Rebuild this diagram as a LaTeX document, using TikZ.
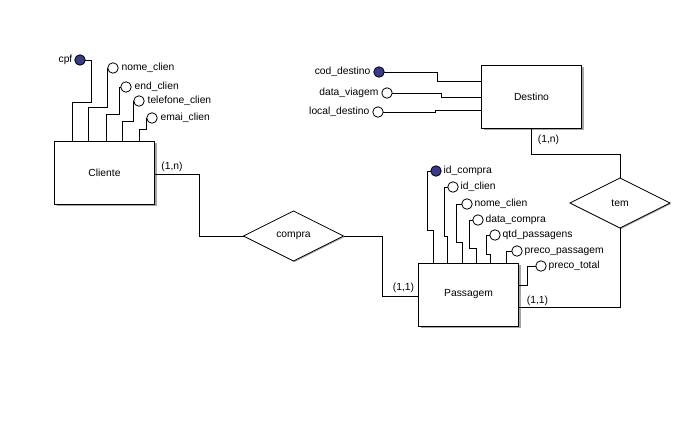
\documentclass[tikz,border=0pt]{standalone}
\usepackage{fontspec}
\setmainfont{Liberation Sans}
\usetikzlibrary{shapes.geometric,shadows}
\definecolor{keyblue}{RGB}{58,58,140}
\begin{document}
\begin{tikzpicture}[x=1pt,y=-1pt, font=\fontsize{10.3}{12}\selectfont, line width=0.8pt,
 entity/.style={draw, fill=white, minimum width=100pt, minimum height=63pt, inner sep=0pt, outer sep=0pt,
   general shadow={fill=black!35, shadow xshift=2pt, shadow yshift=-2pt}},
 rel/.style={diamond, draw, fill=white, inner sep=0pt, outer sep=0pt, minimum width=100pt, minimum height=50pt,
   general shadow={fill=black!35, shadow xshift=1pt, shadow yshift=-1pt}},
 attr/.style={circle, draw, fill=white, minimum size=10.5pt, inner sep=0pt, outer sep=0pt},
 keyattr/.style={attr, fill=keyblue},
 lbl/.style={inner sep=0pt, text height=7pt, text depth=2pt},
]
\useasboundingbox (0,0) rectangle (684,424);

% entities
\node[entity] (cliente) at (104.5,172.5) {Cliente};
\node[entity] (destino) at (531.5,96.5) {Destino};
\node[entity] (passagem) at (468.5,294.5) {Passagem};

% relationships
\node[rel] (compra) at (293.5,236) {compra};
\node[rel] (tem) at (620,203) {tem};

% Cliente attributes
\node[keyattr] (c1) at (80,60) {};
\node[attr] (c2) at (113,68) {};
\node[attr] (c3) at (126,87) {};
\node[attr] (c4) at (139,101) {};
\node[attr] (c5) at (152,118) {};
\node[lbl, anchor=east] (c1l) at ([xshift=-2pt]c1.west) {cpf};
\node[lbl, anchor=west] (c2l) at ([xshift=3pt]c2.east) {nome\_clien};
\node[lbl, anchor=west] (c3l) at ([xshift=3pt]c3.east) {end\_clien};
\node[lbl, anchor=west] (c4l) at ([xshift=3pt]c4.east) {telefone\_clien};
\node[lbl, anchor=west] (c5l) at ([xshift=3pt]c5.east) {emai\_clien};
\draw (c1.east) -| (91,102) -| ([xshift=17.5pt]cliente.north west);
\draw (c2.west) -| (107,107) -| ([xshift=33.5pt]cliente.north west);
\draw (c3.west) -| (119,114) -| ([xshift=51.5pt]cliente.north west);
\draw (c4.west) -| (133,121) -| ([xshift=67.5pt]cliente.north west);
\draw (c5.west) -| (146,129) -| ([xshift=84.5pt]cliente.north west);

% Destino attributes
\node[keyattr] (d1) at (379,72) {};
\node[attr] (d2) at (387,93) {};
\node[attr] (d3) at (378,112) {};
\node[lbl, anchor=east] (d1l) at ([xshift=-3pt]d1.west) {cod\_destino};
\node[lbl, anchor=east] (d2l) at ([xshift=-3pt]d2.west) {data\_viagem};
\node[lbl, anchor=east] (d3l) at ([xshift=-3pt]d3.west) {local\_destino};
\draw (d1.east) -| (437,81) -- ([yshift=-16pt]destino.north west);
\draw (d2.east) -| (441,97) -- ([yshift=-32pt]destino.north west);
\draw (d3.east) -| (435,110) -- ([yshift=-45pt]destino.north west);

% Passagem attributes
\node[keyattr] (p1) at (436,171) {};
\node[attr] (p2) at (453,187) {};
\node[attr] (p3) at (467,204) {};
\node[attr] (p4) at (478,220) {};
\node[attr] (p5) at (495,235) {};
\node[attr] (p6) at (517,251) {};
\node[attr] (p7) at (541,266) {};
\node[lbl, anchor=west] (p1l) at ([xshift=2pt]p1.east) {id\_compra};
\node[lbl, anchor=west] (p2l) at ([xshift=2pt]p2.east) {id\_clien};
\node[lbl, anchor=west] (p3l) at ([xshift=2pt]p3.east) {nome\_clien};
\node[lbl, anchor=west] (p4l) at ([xshift=2pt]p4.east) {data\_compra};
\node[lbl, anchor=west] (p5l) at ([xshift=2pt]p5.east) {qtd\_passagens};
\node[lbl, anchor=west] (p6l) at ([xshift=2pt]p6.east) {preco\_passagem};
\node[lbl, anchor=west] (p7l) at ([xshift=2pt]p7.east) {preco\_total};
\draw (p1.west) -| (427,230) -| ([xshift=14.5pt]passagem.north west);
\draw (p2.west) -| (444,236) -| ([xshift=28.5pt]passagem.north west);
\draw (p3.west) -| (456,242) -| ([xshift=43.5pt]passagem.north west);
\draw (p4.west) -| (469,248) -| ([xshift=57.5pt]passagem.north west);
\draw (p5.west) -| (486,254) -| ([xshift=71.5pt]passagem.north west);
\draw (p6.west) -| ([xshift=87.5pt]passagem.north west);
\draw (p7.west) -| (527,285) -- ([yshift=9.5pt]passagem.east);

% relationship connectors
\draw ([yshift=-1.5pt]cliente.east) -| (199,236) -- (compra.west);
\draw (compra.east) -| (382,296) -- ([yshift=-1.5pt]passagem.west);
\draw (destino.south) |- (620,154) -- (tem.north);
\draw (tem.south) |- ([yshift=-12.5pt]passagem.east);

% cardinalities
\node[lbl] (k1) at (172,167) {(1,n)};
\node[lbl] (k2) at (403.5,288) {(1,1)};
\node[lbl] (k3) at (548.5,140) {(1,n)};
\node[lbl] (k4) at (537.5,301) {(1,1)};
\end{tikzpicture}
\end{document}
